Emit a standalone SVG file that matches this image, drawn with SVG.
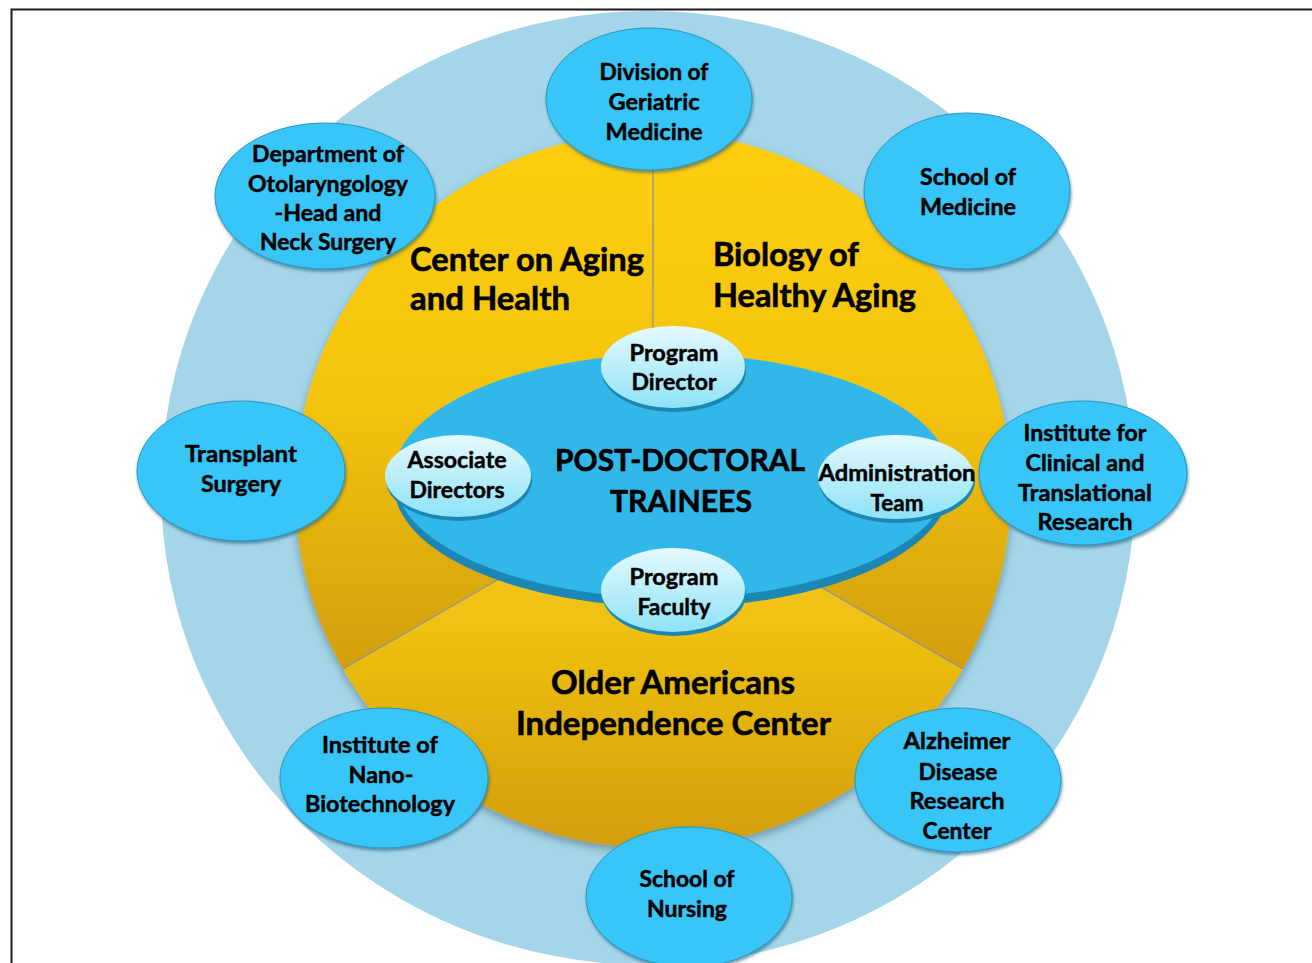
<svg xmlns="http://www.w3.org/2000/svg" width="1312" height="963" viewBox="0 0 1312 963">
<style>
.t{font-family:Lato,"Liberation Sans",sans-serif;font-weight:bold;fill:#000;stroke:#000;stroke-width:0.45;}
.n{font-size:22px;text-anchor:middle;}
.s{font-size:32px;stroke-width:0.6;}
.c{font-size:30px;text-anchor:middle;stroke-width:0.6;}
.outer{fill:#38C6F9;stroke:#2A95BE;stroke-width:1;filter:url(#sh);}
.inner{fill:url(#gIn);}
.rim{fill:#1C86B4;}
.div{stroke:#8A93A0;stroke-width:1.2;fill:none;}
</style>
<defs>
<linearGradient id="gTop" x1="0" y1="0" x2="0" y2="1">
<stop offset="0" stop-color="#FDCE10"/>
<stop offset="0.5" stop-color="#F4C411"/>
<stop offset="1" stop-color="#D29E0C"/>
</linearGradient>
<linearGradient id="gBot" x1="0" y1="0" x2="0" y2="1">
<stop offset="0" stop-color="#F8C912"/>
<stop offset="0.35" stop-color="#F1C212"/>
<stop offset="1" stop-color="#D29E0B"/>
</linearGradient>
<linearGradient id="gIn" x1="0" y1="0" x2="0" y2="1">
<stop offset="0" stop-color="#E6F9FE"/>
<stop offset="1" stop-color="#8EE3F8"/>
</linearGradient>
<filter id="sh" x="-20%" y="-20%" width="140%" height="150%">
<feDropShadow dx="1" dy="2.5" stdDeviation="1.5" flood-color="#1B5F80" flood-opacity="0.6"/>
</filter>
<filter id="ysh" x="-10%" y="-10%" width="120%" height="125%">
<feDropShadow dx="0" dy="4" stdDeviation="4" flood-color="#000" flood-opacity="0.3"/>
</filter>
</defs>
<rect x="11.5" y="9.5" width="1320" height="980" fill="#fff" stroke="#1a1a1a" stroke-width="2"/>
<g id="ring">
<ellipse cx="648" cy="488" rx="487" ry="477" fill="#A4D5E8"/>
</g>
<g id="sectors" filter="url(#ysh)">
<path id="sector-center-on-aging" d="M653,490 L653,132 A358,358 0 0 0 343,669 Z" fill="url(#gTop)"/>
<path id="sector-biology" d="M653,490 L653,132 A358,358 0 0 1 963,669 Z" fill="url(#gTop)"/>
<path id="sector-oaic" d="M653,490 L963,669 A358,358 0 0 1 343,669 Z" fill="url(#gBot)"/>
</g>
<g id="sector-lines">
<line class="div" x1="653" y1="490" x2="653" y2="132"/>
<line class="div" x1="653" y1="490" x2="343" y2="669"/>
<line class="div" x1="653" y1="490" x2="963" y2="669"/>
</g>
<g id="sector-labels">
<text class="t s" x="410" y="271" textLength="234" lengthAdjust="spacingAndGlyphs">Center on Aging</text>
<text class="t s" x="410" y="310" textLength="160" lengthAdjust="spacingAndGlyphs">and Health</text>
<text class="t s" x="713" y="266" textLength="146" lengthAdjust="spacingAndGlyphs">Biology of</text>
<text class="t s" x="713" y="307" textLength="203" lengthAdjust="spacingAndGlyphs">Healthy Aging</text>
<text class="t s" x="551" y="694" textLength="244" lengthAdjust="spacingAndGlyphs">Older Americans</text>
<text class="t s" x="516" y="735" textLength="315" lengthAdjust="spacingAndGlyphs">Independence Center</text>
</g>
<g id="connectors"></g>
<g id="post-doctoral-trainees">
<ellipse class="rim" cx="672" cy="485" rx="278" ry="122"/>
<ellipse cx="672" cy="476" rx="278" ry="122" fill="#31B8E9"/>
<text class="t c" x="680" y="471" textLength="250" lengthAdjust="spacingAndGlyphs">POST-DOCTORAL</text>
<text class="t c" x="681" y="512" textLength="142" lengthAdjust="spacingAndGlyphs">TRAINEES</text>
</g>
<g id="program-director">
<ellipse class="rim" cx="674" cy="371" rx="72" ry="41"/>
<ellipse class="inner" cx="673" cy="367" rx="72" ry="41"/>
<text class="t n" x="674" y="361" textLength="89" lengthAdjust="spacingAndGlyphs">Program</text>
<text class="t n" x="674" y="390" textLength="85" lengthAdjust="spacingAndGlyphs">Director</text>
</g>
<g id="associate-directors">
<ellipse class="rim" cx="459" cy="480" rx="73" ry="41"/>
<ellipse class="inner" cx="458" cy="476" rx="73" ry="41"/>
<text class="t n" x="457" y="468" textLength="99" lengthAdjust="spacingAndGlyphs">Associate</text>
<text class="t n" x="457" y="498" textLength="95" lengthAdjust="spacingAndGlyphs">Directors</text>
</g>
<g id="administration-team">
<ellipse class="rim" cx="897" cy="481" rx="78" ry="42"/>
<ellipse class="inner" cx="896" cy="477" rx="78" ry="42"/>
<text class="t n" x="897" y="481" textLength="157" lengthAdjust="spacingAndGlyphs">Administration</text>
<text class="t n" x="897" y="511" textLength="53" lengthAdjust="spacingAndGlyphs">Team</text>
</g>
<g id="program-faculty">
<ellipse class="rim" cx="674" cy="594" rx="72" ry="42"/>
<ellipse class="inner" cx="673" cy="590" rx="72" ry="42"/>
<text class="t n" x="674" y="585" textLength="89" lengthAdjust="spacingAndGlyphs">Program</text>
<text class="t n" x="674" y="615" textLength="73" lengthAdjust="spacingAndGlyphs">Faculty</text>
</g>
<g id="division-geriatric-medicine">
<ellipse class="outer" cx="649" cy="99" rx="103" ry="71"/>
<text class="t n" x="654" y="80" textLength="109" lengthAdjust="spacingAndGlyphs">Division of</text>
<text class="t n" x="654" y="110" textLength="91" lengthAdjust="spacingAndGlyphs">Geriatric</text>
<text class="t n" x="654" y="140" textLength="97" lengthAdjust="spacingAndGlyphs">Medicine</text>
</g>
<g id="school-of-medicine">
<ellipse class="outer" cx="967" cy="191" rx="103" ry="78"/>
<text class="t n" x="968" y="185" textLength="96" lengthAdjust="spacingAndGlyphs">School of</text>
<text class="t n" x="968" y="215" textLength="96" lengthAdjust="spacingAndGlyphs">Medicine</text>
</g>
<g id="otolaryngology">
<ellipse class="outer" cx="325" cy="196" rx="110" ry="73"/>
<text class="t n" x="328" y="162" textLength="152" lengthAdjust="spacingAndGlyphs">Department of</text>
<text class="t n" x="328" y="192" textLength="160" lengthAdjust="spacingAndGlyphs">Otolaryngology</text>
<text class="t n" x="328" y="221" textLength="107" lengthAdjust="spacingAndGlyphs">-Head and</text>
<text class="t n" x="328" y="250" textLength="136" lengthAdjust="spacingAndGlyphs">Neck Surgery</text>
</g>
<g id="transplant-surgery">
<ellipse class="outer" cx="241" cy="471" rx="104" ry="70"/>
<text class="t n" x="241" y="462" textLength="112" lengthAdjust="spacingAndGlyphs">Transplant</text>
<text class="t n" x="241" y="492" textLength="80" lengthAdjust="spacingAndGlyphs">Surgery</text>
</g>
<g id="ictr">
<ellipse class="outer" cx="1083" cy="473" rx="104" ry="72"/>
<text class="t n" x="1085" y="441" textLength="123" lengthAdjust="spacingAndGlyphs">Institute for</text>
<text class="t n" x="1085" y="471" textLength="119" lengthAdjust="spacingAndGlyphs">Clinical and</text>
<text class="t n" x="1085" y="501" textLength="134" lengthAdjust="spacingAndGlyphs">Translational</text>
<text class="t n" x="1085" y="530" textLength="95" lengthAdjust="spacingAndGlyphs">Research</text>
</g>
<g id="nano-biotechnology">
<ellipse class="outer" cx="384" cy="778" rx="104" ry="70"/>
<text class="t n" x="380" y="753" textLength="116" lengthAdjust="spacingAndGlyphs">Institute of</text>
<text class="t n" x="381" y="783" textLength="65" lengthAdjust="spacingAndGlyphs">Nano-</text>
<text class="t n" x="380" y="812" textLength="150" lengthAdjust="spacingAndGlyphs">Biotechnology</text>
</g>
<g id="alzheimer">
<ellipse class="outer" cx="958" cy="780" rx="103" ry="72"/>
<text class="t n" x="957" y="749" textLength="107" lengthAdjust="spacingAndGlyphs">Alzheimer</text>
<text class="t n" x="958" y="780" textLength="79" lengthAdjust="spacingAndGlyphs">Disease</text>
<text class="t n" x="957" y="809" textLength="95" lengthAdjust="spacingAndGlyphs">Research</text>
<text class="t n" x="957" y="839" textLength="69" lengthAdjust="spacingAndGlyphs">Center</text>
</g>
<g id="school-of-nursing">
<ellipse class="outer" cx="689" cy="897" rx="103" ry="70"/>
<text class="t n" x="687" y="887" textLength="95" lengthAdjust="spacingAndGlyphs">School of</text>
<text class="t n" x="687" y="917" textLength="80" lengthAdjust="spacingAndGlyphs">Nursing</text>
</g>
</svg>
